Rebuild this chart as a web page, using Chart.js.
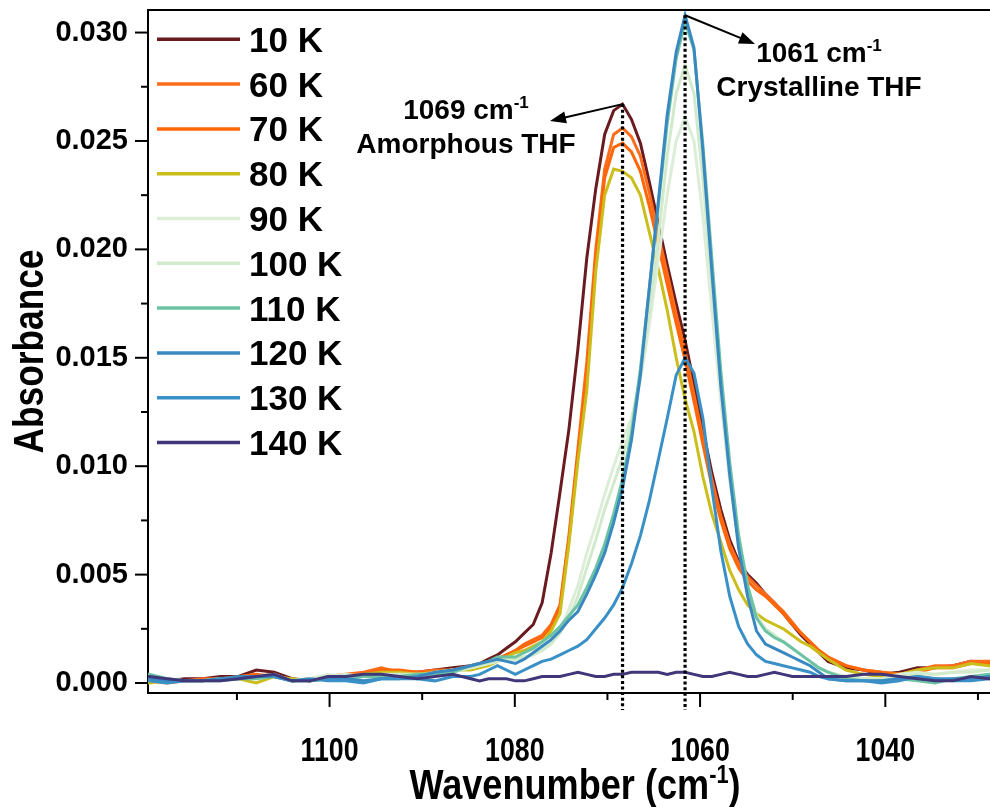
<!DOCTYPE html>
<html lang="en">
<head>
<meta charset="UTF-8">
<title>THF absorbance band vs temperature</title>
<style>
  body { margin: 0; background: #fff; }
  #wrap { width: 990px; height: 807px; }
</style>
</head>
<body>
<div id="wrap"><canvas id="chart" width="990" height="807"></canvas></div>

<script src="https://cdn.jsdelivr.net/npm/chart.js@4.4.0/dist/chart.umd.min.js"></script>
<script>
  // wavenumber grid (cm-1), finer around the band
  const wavenumbers = [
    1120.44, 1119.48, 1117.55, 1115.62, 1113.69, 1111.76, 1109.83, 1107.91, 1105.98, 1104.05,
    1102.12, 1100.19, 1098.26, 1096.33, 1094.41, 1092.48, 1090.55, 1088.62, 1086.69,
    1084.76, 1083.80, 1082.84, 1081.87, 1080.91, 1079.94, 1078.98, 1078.01, 1077.05, 1076.08,
    1075.12, 1074.16, 1073.19, 1072.23, 1071.26, 1070.30, 1069.33, 1068.37, 1067.41, 1066.44,
    1065.48, 1064.51, 1063.55, 1062.58, 1061.62, 1060.66, 1059.69, 1058.73, 1057.76, 1056.80,
    1055.83, 1054.87, 1053.91, 1052.94, 1051.98, 1051.01, 1050.05, 1049.09, 1048.12, 1047.16, 1046.19,
    1044.26, 1042.34, 1040.41, 1038.48, 1036.55, 1034.62, 1032.69, 1030.76, 1028.83, 1027.87
  ];

  const abs10K = [
    0.0002, 0.0002, 0.0001, 0.0002, 0.0002, 0.0003, 0.0003, 0.0006, 0.0005, 0.0002, 0.0001, 0.0003, 0.0003, 0.0004, 0.0005, 0.0005, 0.0005, 0.0006, 0.0007,
    0.0008, 0.0009, 0.0011, 0.0013, 0.0016, 0.0019, 0.0023, 0.0027, 0.0037, 0.0060, 0.0088, 0.0117, 0.0154, 0.0196, 0.0228, 0.0253, 0.0264, 0.0267, 0.0260, 0.0249,
    0.0231, 0.0212, 0.0193, 0.0175, 0.0158, 0.0138, 0.0117, 0.0097, 0.0080, 0.0066, 0.0056, 0.0050, 0.0046, 0.0041, 0.0037, 0.0032, 0.0027, 0.0022, 0.0018, 0.0014, 0.0010,
    0.0007, 0.0006, 0.0004, 0.0005, 0.0007, 0.0007, 0.0008, 0.0010, 0.0009, 0.0008
  ];
  const abs60K = [
    0.0001, 0.0001, 0.0000, 0.0001, 0.0002, 0.0002, 0.0002, 0.0003, 0.0004, 0.0001, 0.0002, 0.0003, 0.0004, 0.0005, 0.0007, 0.0005, 0.0005, 0.0006, 0.0006,
    0.0008, 0.0008, 0.0010, 0.0011, 0.0013, 0.0015, 0.0018, 0.0020, 0.0022, 0.0027, 0.0036, 0.0068, 0.0108, 0.0148, 0.0200, 0.0237, 0.0253, 0.0256, 0.0252, 0.0243,
    0.0226, 0.0207, 0.0189, 0.0170, 0.0153, 0.0133, 0.0113, 0.0094, 0.0077, 0.0064, 0.0055, 0.0049, 0.0045, 0.0041, 0.0037, 0.0033, 0.0028, 0.0023, 0.0019, 0.0015, 0.0012,
    0.0008, 0.0006, 0.0005, 0.0004, 0.0006, 0.0008, 0.0008, 0.0010, 0.0010, 0.0010
  ];
  const abs70K = [
    0.0002, 0.0001, 0.0001, 0.0001, 0.0001, 0.0002, 0.0003, 0.0004, 0.0003, 0.0001, 0.0002, 0.0003, 0.0003, 0.0004, 0.0006, 0.0006, 0.0005, 0.0005, 0.0006,
    0.0007, 0.0008, 0.0009, 0.0011, 0.0013, 0.0015, 0.0017, 0.0019, 0.0021, 0.0026, 0.0035, 0.0066, 0.0105, 0.0142, 0.0196, 0.0233, 0.0247, 0.0249, 0.0245, 0.0236,
    0.0220, 0.0202, 0.0184, 0.0166, 0.0149, 0.0130, 0.0110, 0.0091, 0.0075, 0.0062, 0.0053, 0.0047, 0.0043, 0.0040, 0.0036, 0.0032, 0.0027, 0.0023, 0.0019, 0.0015, 0.0012,
    0.0008, 0.0006, 0.0005, 0.0004, 0.0005, 0.0007, 0.0007, 0.0009, 0.0009, 0.0009
  ];
  const abs80K = [
    0.0001, 0.0000, 0.0001, 0.0001, 0.0001, 0.0002, 0.0002, 0.0000, 0.0003, 0.0002, 0.0001, 0.0002, 0.0003, 0.0004, 0.0005, 0.0005, 0.0004, 0.0005, 0.0006,
    0.0006, 0.0007, 0.0008, 0.0010, 0.0012, 0.0014, 0.0015, 0.0017, 0.0019, 0.0024, 0.0032, 0.0064, 0.0102, 0.0135, 0.0190, 0.0225, 0.0237, 0.0236, 0.0233, 0.0225,
    0.0208, 0.0191, 0.0172, 0.0150, 0.0131, 0.0116, 0.0095, 0.0078, 0.0065, 0.0052, 0.0043, 0.0036, 0.0032, 0.0029, 0.0027, 0.0025, 0.0022, 0.0019, 0.0017, 0.0014, 0.0011,
    0.0006, 0.0004, 0.0003, 0.0004, 0.0006, 0.0007, 0.0007, 0.0009, 0.0008, 0.0008
  ];
  const abs90K = [
    0.0003, 0.0003, 0.0002, 0.0001, 0.0001, 0.0002, 0.0002, 0.0003, 0.0004, 0.0001, 0.0002, 0.0004, 0.0003, 0.0003, 0.0004, 0.0004, 0.0003, 0.0005, 0.0006,
    0.0007, 0.0008, 0.0009, 0.0010, 0.0011, 0.0011, 0.0012, 0.0013, 0.0015, 0.0019, 0.0025, 0.0034, 0.0045, 0.0060, 0.0073, 0.0087, 0.0100, 0.0112, 0.0122, 0.0140,
    0.0165, 0.0195, 0.0225, 0.0250, 0.0261, 0.0250, 0.0215, 0.0172, 0.0130, 0.0093, 0.0064, 0.0044, 0.0031, 0.0025, 0.0022, 0.0019, 0.0016, 0.0013, 0.0010, 0.0007, 0.0005,
    0.0003, 0.0002, 0.0002, 0.0004, 0.0005, 0.0004, 0.0005, 0.0006, 0.0006, 0.0006
  ];
  const abs100K = [
    0.0003, 0.0002, 0.0002, 0.0001, 0.0001, 0.0001, 0.0002, 0.0003, 0.0003, 0.0001, 0.0002, 0.0003, 0.0004, 0.0003, 0.0003, 0.0004, 0.0004, 0.0004, 0.0005,
    0.0007, 0.0008, 0.0009, 0.0010, 0.0011, 0.0011, 0.0012, 0.0013, 0.0015, 0.0018, 0.0023, 0.0030, 0.0040, 0.0053, 0.0066, 0.0080, 0.0092, 0.0104, 0.0120, 0.0142,
    0.0170, 0.0205, 0.0243, 0.0272, 0.0285, 0.0272, 0.0232, 0.0183, 0.0136, 0.0097, 0.0066, 0.0045, 0.0031, 0.0025, 0.0022, 0.0019, 0.0016, 0.0013, 0.0010, 0.0007, 0.0005,
    0.0003, 0.0002, 0.0002, 0.0003, 0.0004, 0.0004, 0.0005, 0.0005, 0.0006, 0.0006
  ];
  const abs110K = [
    0.0004, 0.0004, 0.0002, 0.0001, 0.0001, 0.0001, 0.0002, 0.0002, 0.0003, 0.0001, 0.0001, 0.0002, 0.0002, 0.0003, 0.0003, 0.0003, 0.0004, 0.0004, 0.0005,
    0.0008, 0.0009, 0.0010, 0.0012, 0.0012, 0.0012, 0.0014, 0.0016, 0.0019, 0.0022, 0.0026, 0.0031, 0.0036, 0.0044, 0.0053, 0.0064, 0.0078, 0.0094, 0.0115, 0.0145,
    0.0182, 0.0220, 0.0258, 0.0288, 0.0305, 0.0292, 0.0248, 0.0196, 0.0144, 0.0102, 0.0068, 0.0045, 0.0030, 0.0024, 0.0021, 0.0019, 0.0016, 0.0013, 0.0010, 0.0007, 0.0005,
    0.0002, 0.0001, 0.0001, 0.0002, 0.0001, 0.0000, 0.0002, 0.0003, 0.0004, 0.0004
  ];
  const abs120K = [
    0.0002, 0.0002, 0.0001, 0.0001, 0.0001, 0.0002, 0.0003, 0.0003, 0.0003, 0.0001, 0.0001, 0.0002, 0.0002, 0.0001, 0.0002, 0.0002, 0.0003, 0.0005, 0.0006,
    0.0008, 0.0009, 0.0010, 0.0011, 0.0010, 0.0009, 0.0011, 0.0014, 0.0017, 0.0020, 0.0024, 0.0029, 0.0033, 0.0041, 0.0050, 0.0060, 0.0074, 0.0090, 0.0112, 0.0142,
    0.0182, 0.0222, 0.0262, 0.0291, 0.0308, 0.0293, 0.0245, 0.0190, 0.0137, 0.0096, 0.0062, 0.0040, 0.0024, 0.0018, 0.0016, 0.0014, 0.0012, 0.0010, 0.0008, 0.0005, 0.0002,
    0.0001, 0.0001, 0.0001, 0.0002, 0.0003, 0.0002, 0.0002, 0.0002, 0.0003, 0.0003
  ];
  const abs130K = [
    0.0001, 0.0001, 0.0000, 0.0001, 0.0001, 0.0002, 0.0002, 0.0003, 0.0003, 0.0001, 0.0002, 0.0001, 0.0001, 0.0000, 0.0002, 0.0002, 0.0002, 0.0001, 0.0003,
    0.0003, 0.0004, 0.0006, 0.0008, 0.0006, 0.0004, 0.0006, 0.0008, 0.0010, 0.0011, 0.0013, 0.0015, 0.0017, 0.0020, 0.0025, 0.0030, 0.0036, 0.0044, 0.0055, 0.0068,
    0.0084, 0.0103, 0.0122, 0.0142, 0.0150, 0.0143, 0.0122, 0.0090, 0.0061, 0.0040, 0.0026, 0.0018, 0.0013, 0.0010, 0.0009, 0.0008, 0.0007, 0.0006, 0.0005, 0.0003, 0.0002,
    0.0001, 0.0001, 0.0000, 0.0001, 0.0003, 0.0002, 0.0001, 0.0001, 0.0002, 0.0002
  ];
  const abs140K = [
    0.0003, 0.0003, 0.0002, 0.0001, 0.0001, 0.0001, 0.0002, 0.0003, 0.0004, 0.0001, 0.0001, 0.0003, 0.0003, 0.0004, 0.0004, 0.0003, 0.0002, 0.0003, 0.0004,
    0.0002, 0.0001, 0.0002, 0.0002, 0.0002, 0.0001, 0.0001, 0.0002, 0.0003, 0.0003, 0.0003, 0.0004, 0.0005, 0.0004, 0.0003, 0.0003, 0.0004, 0.0004, 0.0005, 0.0005,
    0.0005, 0.0005, 0.0004, 0.0005, 0.0005, 0.0004, 0.0003, 0.0003, 0.0004, 0.0005, 0.0004, 0.0003, 0.0003, 0.0004, 0.0005, 0.0004, 0.0003, 0.0003, 0.0003, 0.0003, 0.0003,
    0.0003, 0.0004, 0.0004, 0.0003, 0.0002, 0.0001, 0.0001, 0.0003, 0.0002, 0.0002
  ];

  const seriesLabels = ['10 K', '60 K', '70 K', '80 K', '90 K', '100 K', '110 K', '120 K', '130 K', '140 K'];
  const seriesValues = [abs10K, abs60K, abs70K, abs80K, abs90K, abs100K, abs110K, abs120K, abs130K, abs140K];
  const seriesColors = ['#6a1b1f', '#fb6c1c', '#ff6608', '#cbbe1a', '#dcedd8', '#d2eacc',
                        '#6cc3a4', '#3a88c0', '#3990c6', '#3f3779'];

  const yTicks = [0, 0.005, 0.010, 0.015, 0.020, 0.025, 0.030];
  const yMinorTicks = [0.0025, 0.0075, 0.0125, 0.0175, 0.0225, 0.0275];
  const xTicks = [1100, 1080, 1060, 1040];
  const xMinorTicks = [1110, 1090, 1070, 1050, 1030];

  const wideFont = "'Liberation Sans', Arial, sans-serif";
  const NARROW = 0.81; // horizontal squeeze for the condensed axis lettering

  function peakIndex(arr) {
    let m = 0;
    arr.forEach((v, i) => { if (v > arr[m]) m = i; });
    return m;
  }

  // condensed bold text, anchored by align at (x, y) baseline
  function narrowText(ctx, text, x, y, size, align, squeeze = NARROW) {
    ctx.save();
    ctx.font = `bold ${size}px ${wideFont}`;
    const w = ctx.measureText(text).width * squeeze;
    const x0 = align === 'center' ? x - w / 2 : align === 'right' ? x - w : x;
    ctx.translate(x0, y);
    ctx.scale(squeeze, 1);
    ctx.textAlign = 'left';
    ctx.textBaseline = 'alphabetic';
    ctx.fillText(text, 0, 0);
    ctx.restore();
    return w;
  }

  // text with a "-1" superscript, centred on cx
  function supText(ctx, main, sup, cx, baseline, size, supSize, rise) {
    ctx.font = `bold ${size}px ${wideFont}`;
    const w1 = ctx.measureText(main).width;
    ctx.font = `bold ${supSize}px ${wideFont}`;
    const w2 = ctx.measureText(sup).width;
    const x0 = cx - (w1 + w2) / 2;
    ctx.textAlign = 'left';
    ctx.textBaseline = 'alphabetic';
    ctx.font = `bold ${size}px ${wideFont}`;
    ctx.fillText(main, x0, baseline);
    ctx.font = `bold ${supSize}px ${wideFont}`;
    ctx.fillText(sup, x0 + w1, baseline - rise);
  }

  const axisFrame = {
    id: 'axisFrame',
    afterDraw(chart) {
      const { ctx, chartArea: a, scales: { x, y } } = chart;
      ctx.save();
      ctx.strokeStyle = '#000';
      ctx.fillStyle = '#000';
      ctx.lineWidth = 2;
      const seg = (x1, y1, x2, y2) => { ctx.beginPath(); ctx.moveTo(x1, y1); ctx.lineTo(x2, y2); ctx.stroke(); };
      seg(a.left - 1, a.top, a.right, a.top);
      yTicks.forEach(v => { const p = y.getPixelForValue(v); seg(a.left - 13, p, a.left, p); });
      yMinorTicks.forEach(v => { const p = y.getPixelForValue(v); seg(a.left - 7, p, a.left, p); });
      xTicks.forEach(v => {
        const p = x.getPixelForValue(v);
        seg(p, a.bottom, p, a.bottom + 14);
        narrowText(ctx, String(v), p, 761, 33, 'center');
      });
      xMinorTicks.forEach(v => { const p = x.getPixelForValue(v); seg(p, a.bottom, p, a.bottom + 7); });

      // x axis title with superscript
      const sq = 0.84;
      const cx = (a.left + a.right) / 2 + 6;
      ctx.font = `bold 43px ${wideFont}`;
      const wMain = ctx.measureText('Wavenumber (cm').width * sq;
      ctx.font = `bold 26px ${wideFont}`;
      const wSup = ctx.measureText('-1').width * sq;
      ctx.font = `bold 43px ${wideFont}`;
      const wEnd = ctx.measureText(')').width * sq;
      const x0 = cx - (wMain + wSup + wEnd) / 2;
      narrowText(ctx, 'Wavenumber (cm', x0, 799, 43, 'left', sq);
      narrowText(ctx, '-1', x0 + wMain, 783, 26, 'left', sq);
      narrowText(ctx, ')', x0 + wMain + wSup, 799, 43, 'left', sq);

      // y axis title, rotated
      ctx.save();
      ctx.translate(43, (a.top + a.bottom) / 2);
      ctx.rotate(-Math.PI / 2);
      narrowText(ctx, 'Absorbance', 0, 0, 43, 'center', 0.82);
      ctx.restore();
      ctx.restore();
    }
  };

  const legendBox = {
    id: 'legendBox',
    afterDatasetsDraw(chart) {
      const { ctx } = chart;
      ctx.save();
      seriesLabels.forEach((lab, i) => {
        const yy = 39.3 + i * 44.8;
        ctx.strokeStyle = seriesColors[i];
        ctx.lineWidth = 3.5;
        ctx.beginPath(); ctx.moveTo(157, yy); ctx.lineTo(240, yy); ctx.stroke();
        ctx.fillStyle = '#000';
        ctx.font = `bold 35px ${wideFont}`;
        ctx.textAlign = 'left';
        ctx.textBaseline = 'alphabetic';
        ctx.fillText(lab, 249, yy + 12.5);
      });
      ctx.restore();
    }
  };

  const peakNotes = {
    id: 'peakNotes',
    afterDatasetsDraw(chart) {
      const { ctx, chartArea: a, scales: { x, y } } = chart;
      const notes = [
        { series: abs10K, main: '1069 cm', name: 'Amorphous THF', cx: 466, base: [119, 153], tip: [550, 121] },
        { series: abs120K, main: '1061 cm', name: 'Crystalline THF', cx: 819, base: [62, 96], tip: [755, 44] }
      ];
      ctx.save();
      notes.forEach(n => {
        const i = peakIndex(n.series);
        const px = x.getPixelForValue(wavenumbers[i]);
        const py = y.getPixelForValue(n.series[i]);
        // dotted drop line
        ctx.strokeStyle = '#000';
        ctx.lineWidth = 3.2;
        ctx.setLineDash([3, 2.6]);
        ctx.beginPath(); ctx.moveTo(px, py); ctx.lineTo(px, a.bottom + 17); ctx.stroke();
        ctx.setLineDash([]);
        // arrow
        const [tx, ty] = n.tip;
        const ang = Math.atan2(ty - py, tx - px);
        ctx.lineWidth = 2;
        ctx.beginPath(); ctx.moveTo(px, py); ctx.lineTo(tx - 12 * Math.cos(ang), ty - 12 * Math.sin(ang)); ctx.stroke();
        ctx.fillStyle = '#000';
        ctx.beginPath();
        ctx.moveTo(tx, ty);
        ctx.lineTo(tx - 16 * Math.cos(ang) + 6 * Math.sin(ang), ty - 16 * Math.sin(ang) - 6 * Math.cos(ang));
        ctx.lineTo(tx - 16 * Math.cos(ang) - 6 * Math.sin(ang), ty - 16 * Math.sin(ang) + 6 * Math.cos(ang));
        ctx.closePath();
        ctx.fill();
        // labels
        supText(ctx, n.main, '-1', n.cx, n.base[0], 28, 17, 11);
        ctx.font = `bold 28px ${wideFont}`;
        ctx.textAlign = 'center';
        ctx.fillText(n.name, n.cx, n.base[1]);
      });
      ctx.restore();
    }
  };

  new Chart(document.getElementById('chart'), {
    type: 'line',
    data: {
      datasets: seriesValues.map((vals, i) => ({
        label: seriesLabels[i],
        data: wavenumbers.map((w, j) => ({ x: w, y: vals[j] })),
        borderColor: seriesColors[i],
        borderWidth: 3,
        pointRadius: 0,
        tension: 0,
        fill: false,
        order: seriesValues.length - i
      }))
    },
    options: {
      responsive: false,
      animation: false,
      devicePixelRatio: 1,
      layout: { padding: { top: 10, right: 0, left: 0, bottom: 0 } },
      plugins: { legend: { display: false }, tooltip: { enabled: false } },
      scales: {
        x: {
          type: 'linear',
          reverse: true,
          min: 1028.7,
          max: 1119.6,
          afterBuildTicks: s => { s.ticks = xTicks.map(v => ({ value: v })); },
          afterFit: s => { s.height = 114; s.paddingLeft = 0; s.paddingRight = 0; },
          grid: { display: false, drawTicks: false },
          border: { display: true, color: '#000', width: 2 },
          ticks: { display: false }
        },
        y: {
          min: -0.00046,
          max: 0.03104,
          afterBuildTicks: s => { s.ticks = yTicks.map(v => ({ value: v })); },
          afterFit: s => { s.width = 148; s.paddingTop = 0; s.paddingBottom = 0; },
          grid: { display: false, drawTicks: false },
          border: { display: true, color: '#000', width: 2 },
          ticks: {
            color: '#000', padding: 20, autoSkip: false,
            font: { family: wideFont, weight: 'bold', size: 29 },
            callback: v => v.toFixed(3)
          }
        }
      }
    },
    plugins: [axisFrame, legendBox, peakNotes]
  });
</script>
</body>
</html>
